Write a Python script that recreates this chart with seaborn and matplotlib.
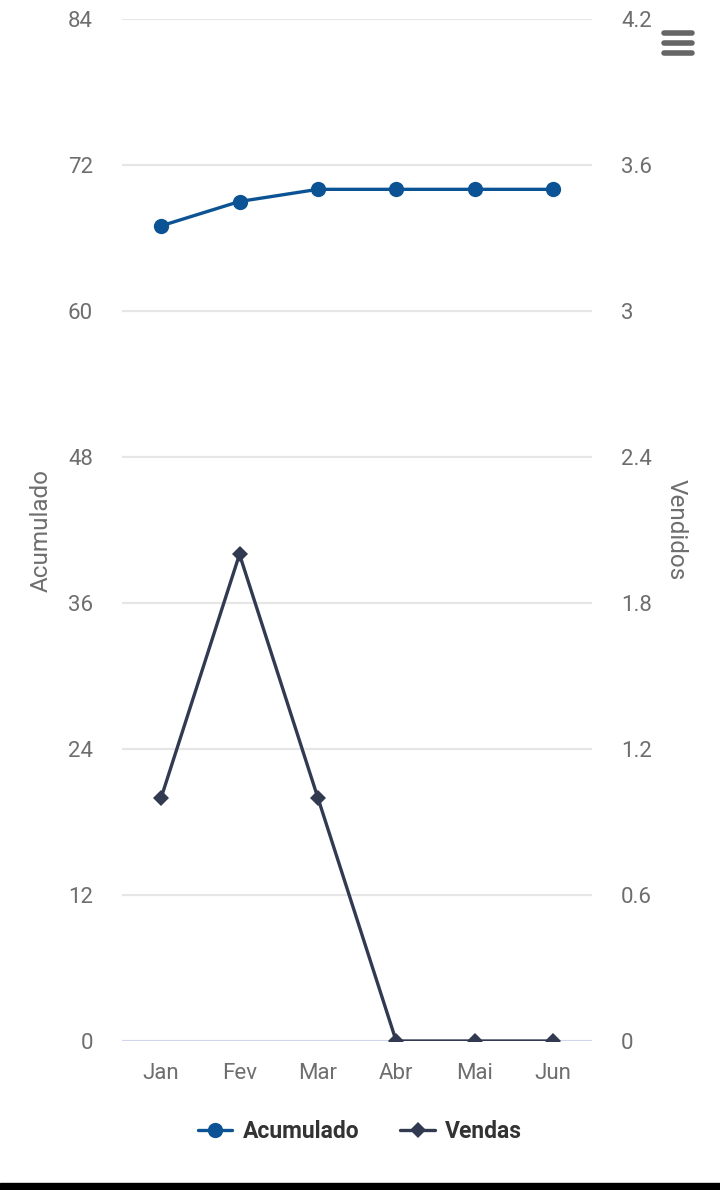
import matplotlib
matplotlib.use("Agg")
import matplotlib.pyplot as plt
import seaborn as sns
import pandas as pd
from matplotlib.lines import Line2D
from matplotlib.patches import Rectangle

meses = ["Jan", "Fev", "Mar", "Abr", "Mai", "Jun"]
acumulado = [67, 69, 70, 70, 70, 70]
vendas = [1, 2, 1, 0, 0, 0]

ticks_esq = [0, 12, 24, 36, 48, 60, 72, 84]
ticks_dir = [0, 0.6, 1.2, 1.8, 2.4, 3, 3.6, 4.2]
labels_dir = ["0", "0.6", "1.2", "1.8", "2.4", "3", "3.6", "4.2"]

cor_acum = "#0b5394"
cor_vend = "#323a52"
cor_texto = "#6e6e6e"

sns.set_style("white")
plt.rcParams["font.family"] = ["Roboto", "DejaVu Sans"]

df = pd.DataFrame({"mes": meses, "x": range(len(meses)),
                   "Acumulado": acumulado, "Vendas": vendas})

fig = plt.figure(figsize=(7.2, 11.9), dpi=100)
ax = fig.add_axes([122 / 720, 1 - 1041 / 1190, 470 / 720, 1022 / 1190])
ax2 = ax.twinx()

sns.lineplot(data=df, x="x", y="Acumulado", ax=ax, color=cor_acum,
             marker="o", markersize=11, linewidth=2.4, markeredgewidth=0, zorder=3)
sns.lineplot(data=df, x="x", y="Vendas", ax=ax2, color=cor_vend,
             marker="D", markersize=8, linewidth=2.4, markeredgewidth=0, zorder=3)

ax.set_xlim(-0.5, len(meses) - 0.5)
ax.set_ylim(0, 84)
ax2.set_ylim(0, 4.2)
ax.set_yticks(ticks_esq)
ax2.set_yticks(ticks_dir)
ax2.set_yticklabels(labels_dir)
ax.set_xticks(df["x"])
ax.set_xticklabels(meses)

for a in (ax, ax2):
    for s in a.spines.values():
        s.set_visible(False)
    a.tick_params(length=0, labelsize=16, labelcolor=cor_texto)

ax.tick_params(axis="y", pad=21)
ax2.tick_params(axis="y", pad=21)
ax.tick_params(axis="x", pad=16)

ax.grid(axis="y", color="#e6e6e6", linewidth=1.6)
ax.grid(axis="x", visible=False)
ax.axhline(0, color="#ccd6eb", linewidth=2, zorder=2)
ax2.set_zorder(ax.get_zorder() + 1)

ax.set_xlabel("")
ax.set_ylabel("Acumulado", fontsize=17.5, color=cor_texto)
ax2.set_ylabel("Vendidos", fontsize=17.5, color=cor_texto, rotation=270)
ax.yaxis.set_label_coords(-0.147, 0.5)
ax2.yaxis.set_label_coords(1.203, 0.5)

handles = [
    Line2D([], [], color=cor_acum, marker="o", markersize=11, linewidth=2.4, markeredgewidth=0),
    Line2D([], [], color=cor_vend, marker="D", markersize=8, linewidth=2.4, markeredgewidth=0),
]
fig.legend(handles, ["Acumulado", "Vendas"], loc="center",
           bbox_to_anchor=(0.5, 1 - 1132 / 1190), ncol=2, frameon=False,
           prop={"weight": "bold", "size": 16.5}, labelcolor="#333333",
           handlelength=1.5, handletextpad=0.45, columnspacing=1.8)

# icone de menu (hamburger)
for yy in (33, 43, 53):
    fig.add_artist(Line2D([664 / 720, 692 / 720], [1 - yy / 1190] * 2,
                          color="#666666", linewidth=4, solid_capstyle="round"))

# barra preta no rodape
fig.add_artist(Rectangle((0, 0), 1, 7 / 1190, transform=fig.transFigure,
                         color="black"))

fig.savefig("out.png", dpi=100)
